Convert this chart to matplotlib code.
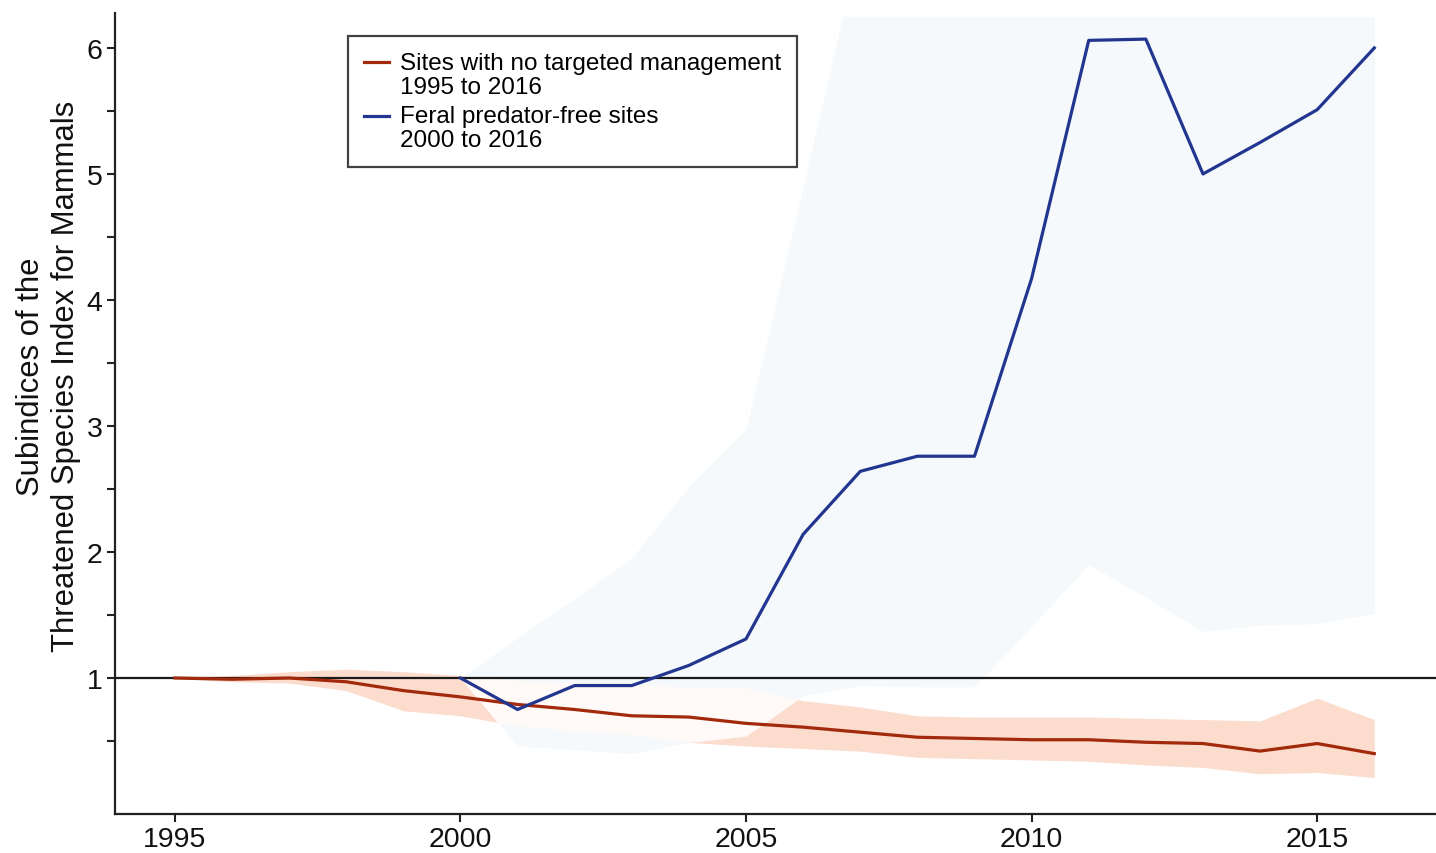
import numpy as np
import matplotlib.pyplot as plt

plt.rcParams['font.family'] = ['Liberation Sans', 'DejaVu Sans']

# Sites with no targeted management, 1995 to 2016
years_nm = np.arange(1995, 2017)
index_nm = [1.00, 0.99, 1.00, 0.97, 0.90, 0.85, 0.79, 0.75, 0.70, 0.69, 0.64,
            0.61, 0.57, 0.53, 0.52, 0.51, 0.51, 0.49, 0.48, 0.42, 0.48, 0.40]
upper_nm = [1.00, 1.02, 1.05, 1.07, 1.05, 1.02, 0.98, 0.96, 0.95, 0.93, 0.92,
            0.82, 0.77, 0.70, 0.69, 0.69, 0.69, 0.68, 0.67, 0.66, 0.84, 0.67]
lower_nm = [1.00, 0.97, 0.96, 0.90, 0.74, 0.70, 0.62, 0.58, 0.55, 0.49, 0.46,
            0.44, 0.42, 0.37, 0.36, 0.35, 0.34, 0.31, 0.29, 0.24, 0.25, 0.21]

# Feral predator-free sites, 2000 to 2016
years_pf = np.arange(2000, 2017)
index_pf = [1.00, 0.75, 0.94, 0.94, 1.10, 1.31, 2.14, 2.64, 2.76, 2.76, 4.17,
            6.06, 6.07, 5.00, 5.25, 5.51, 6.00]
upper_pf = [1.00, 1.32, 1.63, 1.95, 2.52, 2.97, 4.90, 6.85, 6.85, 6.85, 6.85,
            6.85, 6.85, 6.85, 6.85, 6.85, 6.85]
lower_pf = [1.00, 0.46, 0.43, 0.40, 0.49, 0.54, 0.86, 0.94, 0.93, 0.93, 1.41,
            1.90, 1.64, 1.37, 1.42, 1.43, 1.51]

red = '#a3290c'
blue = '#22368f'
pink = '#fcdccd'
pale_blue = '#f5f9fb'
overlap = '#fffaf7'

fig = plt.figure(figsize=(14.36, 8.54), dpi=100)
ax = fig.add_axes([0.080, 0.0457, 0.920, 0.9333])

ax.fill_between(years_nm, lower_nm, upper_nm, color=pink, lw=0, zorder=1)
ax.fill_between(years_pf, lower_pf, upper_pf, color=pale_blue, lw=0, zorder=2)

# where both intervals cover the same ground
xs = np.linspace(2000, 2016, 1601)
lo = np.maximum(np.interp(xs, years_nm, lower_nm), np.interp(xs, years_pf, lower_pf))
hi = np.minimum(np.interp(xs, years_nm, upper_nm), np.interp(xs, years_pf, upper_pf))
ax.fill_between(xs, lo, hi, where=hi > lo, color=overlap, lw=0, zorder=3)

ax.axhline(1, color='#1a1a1a', lw=1.6, zorder=4)

ax.plot(years_nm, index_nm, color=red, lw=2.3, zorder=5,
        label='Sites with no targeted management\n1995 to 2016')
ax.plot(years_pf, index_pf, color=blue, lw=2.3, zorder=6,
        label='Feral predator-free sites\n2000 to 2016')

ax.set_xlim(1993.95, 2017.08)
ax.set_ylim(-0.079, 6.246)
ax.set_xticks([1995, 2000, 2005, 2010, 2015])
ax.set_yticks([1, 2, 3, 4, 5, 6])
ax.set_yticks(np.arange(0.5, 6.0, 1.0), minor=True)

for side in ['top', 'right']:
    ax.spines[side].set_visible(False)
for side in ['left', 'bottom']:
    ax.spines[side].set_linewidth(1.6)
    ax.spines[side].set_color('#222222')
ax.spines['left'].set_bounds(-0.079, 6.278)

ax.tick_params(axis='both', which='both', direction='out', length=6, width=1.5,
               color='#222222', labelsize=20.5, labelcolor='#111111')
ax.tick_params(axis='x', pad=3)
ax.tick_params(axis='y', pad=3)

ax.set_ylabel('Subindices of the\nThreatened Species Index for Mammals',
              fontsize=22.3, color='#111111', linespacing=1.2, labelpad=4)
ax.yaxis.label.set_y(0.55)

leg = ax.legend(loc='upper left', bbox_to_anchor=(0.1764, 0.9762), fontsize=17.5,
                frameon=True, fancybox=False, edgecolor='#111111',
                handlelength=1.05, handletextpad=0.45, labelspacing=0.3,
                borderpad=0.65, borderaxespad=0)
leg.get_frame().set_linewidth(1.6)
leg.set_zorder(10)
for txt in leg.get_texts():
    txt.set_linespacing(1.12)
# put each key line level with the first line of its label
for h in leg.legend_handles:
    y = h.get_ydata()
    h.set_ydata([v + 9.0 for v in y])

fig.savefig('out.png', dpi=100)
